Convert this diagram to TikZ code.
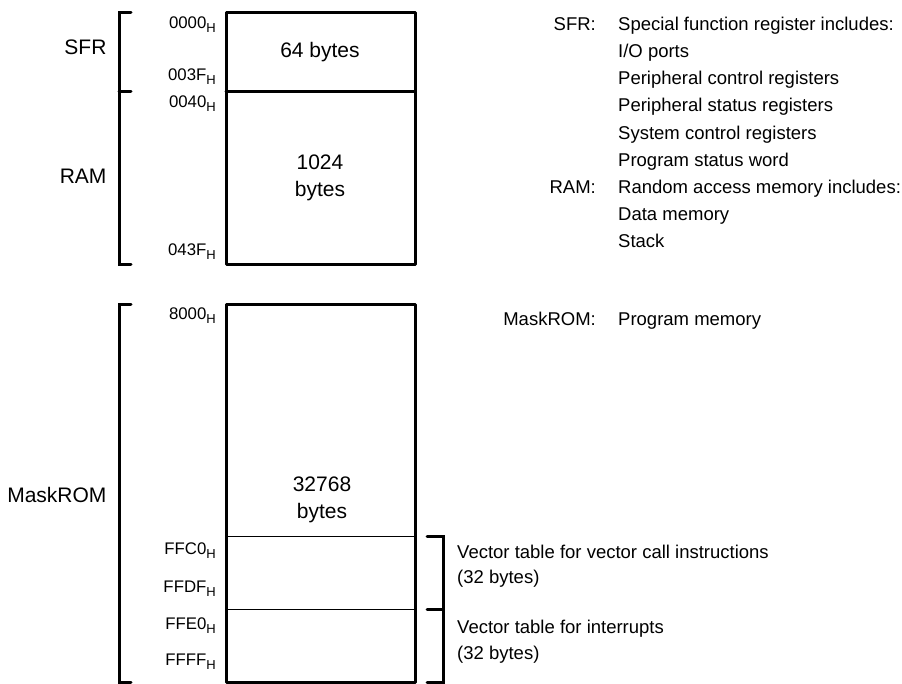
\documentclass[tikz,border=0pt]{standalone}
\usepackage{fontspec}
\setmainfont{Liberation Sans}
\usepackage{tkz-euclide}
\usetikzlibrary{calc}

\newcommand{\hexadr}[1]{#1\raisebox{-0.4ex}{\fontsize{13}{13}\selectfont H}}

\tikzset{
  boxtxt/.style={font=\fontsize{21}{27}\selectfont,align=center},
  sidetxt/.style={font=\fontsize{21}{25}\selectfont,anchor=mid east},
  adrtxt/.style={font=\fontsize{16.8}{19}\selectfont,anchor=mid east,inner sep=0pt},
  keytxt/.style={font=\fontsize{18.5}{22}\selectfont,anchor=mid east,inner sep=0pt},
  desctxt/.style={font=\fontsize{18.5}{22}\selectfont,anchor=mid west,inner sep=0pt}
}

\begin{document}
\begin{tikzpicture}[x=1pt,y=-1pt]
\useasboundingbox (0,0) rectangle (902,684);
\tkzSetUpLine[line width=3pt,color=black]

% memory blocks
\tkzDefPoints{226/13/A1,415/13/A2,415/265/A3,226/265/A4,226/92/S1,415/92/S2}
\tkzDefPoints{226/305/B1,415/305/B2,415/682/B3,226/682/B4}
\tkzDefPoints{226/536/C1,415/536/C2,226/609/D1,415/609/D2}
% left brackets
\tkzDefPoints{131/13/L1,119/13/L2,119/92/L3,131/92/L4,119/265/L5,131/265/L6}
\tkzDefPoints{131/305/M1,119/305/M2,119/682/M3,131/682/M4}
% right brackets
\tkzDefPoints{427/536/R1,443/536/R2,443/609/R3,427/609/R4,443/682/R5,427/682/R6}

\tkzDrawPolygon(A1,A2,A3,A4)
\tkzDrawSegment(S1,S2)
\tkzDrawPolygon(B1,B2,B3,B4)
\tkzDrawSegments[line width=1pt](C1,C2 D1,D2)

\tkzDrawPolySeg(L1,L2,L5,L6)
\tkzDrawSegment(L3,L4)
\tkzDrawPolySeg(M1,M2,M3,M4)
\tkzDrawPolySeg(R1,R2,R5,R6)
\tkzDrawSegment(R3,R4)

% area names
\node[sidetxt] (sfr) at (110,52) {SFR};
\node[sidetxt] (ram) at (110,181) {RAM};
\node[sidetxt] (rom) at (110,500) {MaskROM};

% sizes
\node[boxtxt] (sfrsize) at (320,52) {64 bytes};
\node[boxtxt] (ramsize) at (320,178) {1024\\bytes};
\node[boxtxt] (romsize) at (322,500) {32768\\bytes};

% addresses
\node[adrtxt] (a0000) at (216,26) {\hexadr{0000}};
\node[adrtxt] (a003F) at (216,78) {\hexadr{003F}};
\node[adrtxt] (a0040) at (216,105) {\hexadr{0040}};
\node[adrtxt] (a043F) at (216,253) {\hexadr{043F}};
\node[adrtxt] (a8000) at (216,317) {\hexadr{8000}};
\node[adrtxt] (aFFC0) at (216,552) {\hexadr{FFC0}};
\node[adrtxt] (aFFDF) at (216,590) {\hexadr{FFDF}};
\node[adrtxt] (aFFE0) at (216,627) {\hexadr{FFE0}};
\node[adrtxt] (aFFFF) at (216,663) {\hexadr{FFFF}};

% legend
\node[keytxt] (ksfr) at (596,28) {SFR:};
\node[desctxt] (dsfr) at (618,28) {Special function register includes:};
\node[desctxt] (dio) at (618,55.1) {I/O ports};
\node[desctxt] (dpcr) at (618,82.2) {Peripheral control registers};
\node[desctxt] (dpsr) at (618,109.3) {Peripheral status registers};
\node[desctxt] (dscr) at (618,136.4) {System control registers};
\node[desctxt] (dpsw) at (618,163.5) {Program status word};
\node[keytxt] (kram) at (596,190.6) {RAM:};
\node[desctxt] (dram) at (618,190.6) {Random access memory includes:};
\node[desctxt] (ddat) at (618,217.7) {Data memory};
\node[desctxt] (dstk) at (618,244.8) {Stack};
\node[keytxt] (krom) at (596,323) {MaskROM:};
\node[desctxt] (drom) at (618,323) {Program memory};

% vector tables
\node[desctxt] (vcall) at (457,556) {Vector table for vector call instructions};
\node[desctxt] (vcallsz) at (457,581) {(32 bytes)};
\node[desctxt] (vint) at (457,631) {Vector table for interrupts};
\node[desctxt] (vintsz) at (457,657) {(32 bytes)};

\end{tikzpicture}
\end{document}
